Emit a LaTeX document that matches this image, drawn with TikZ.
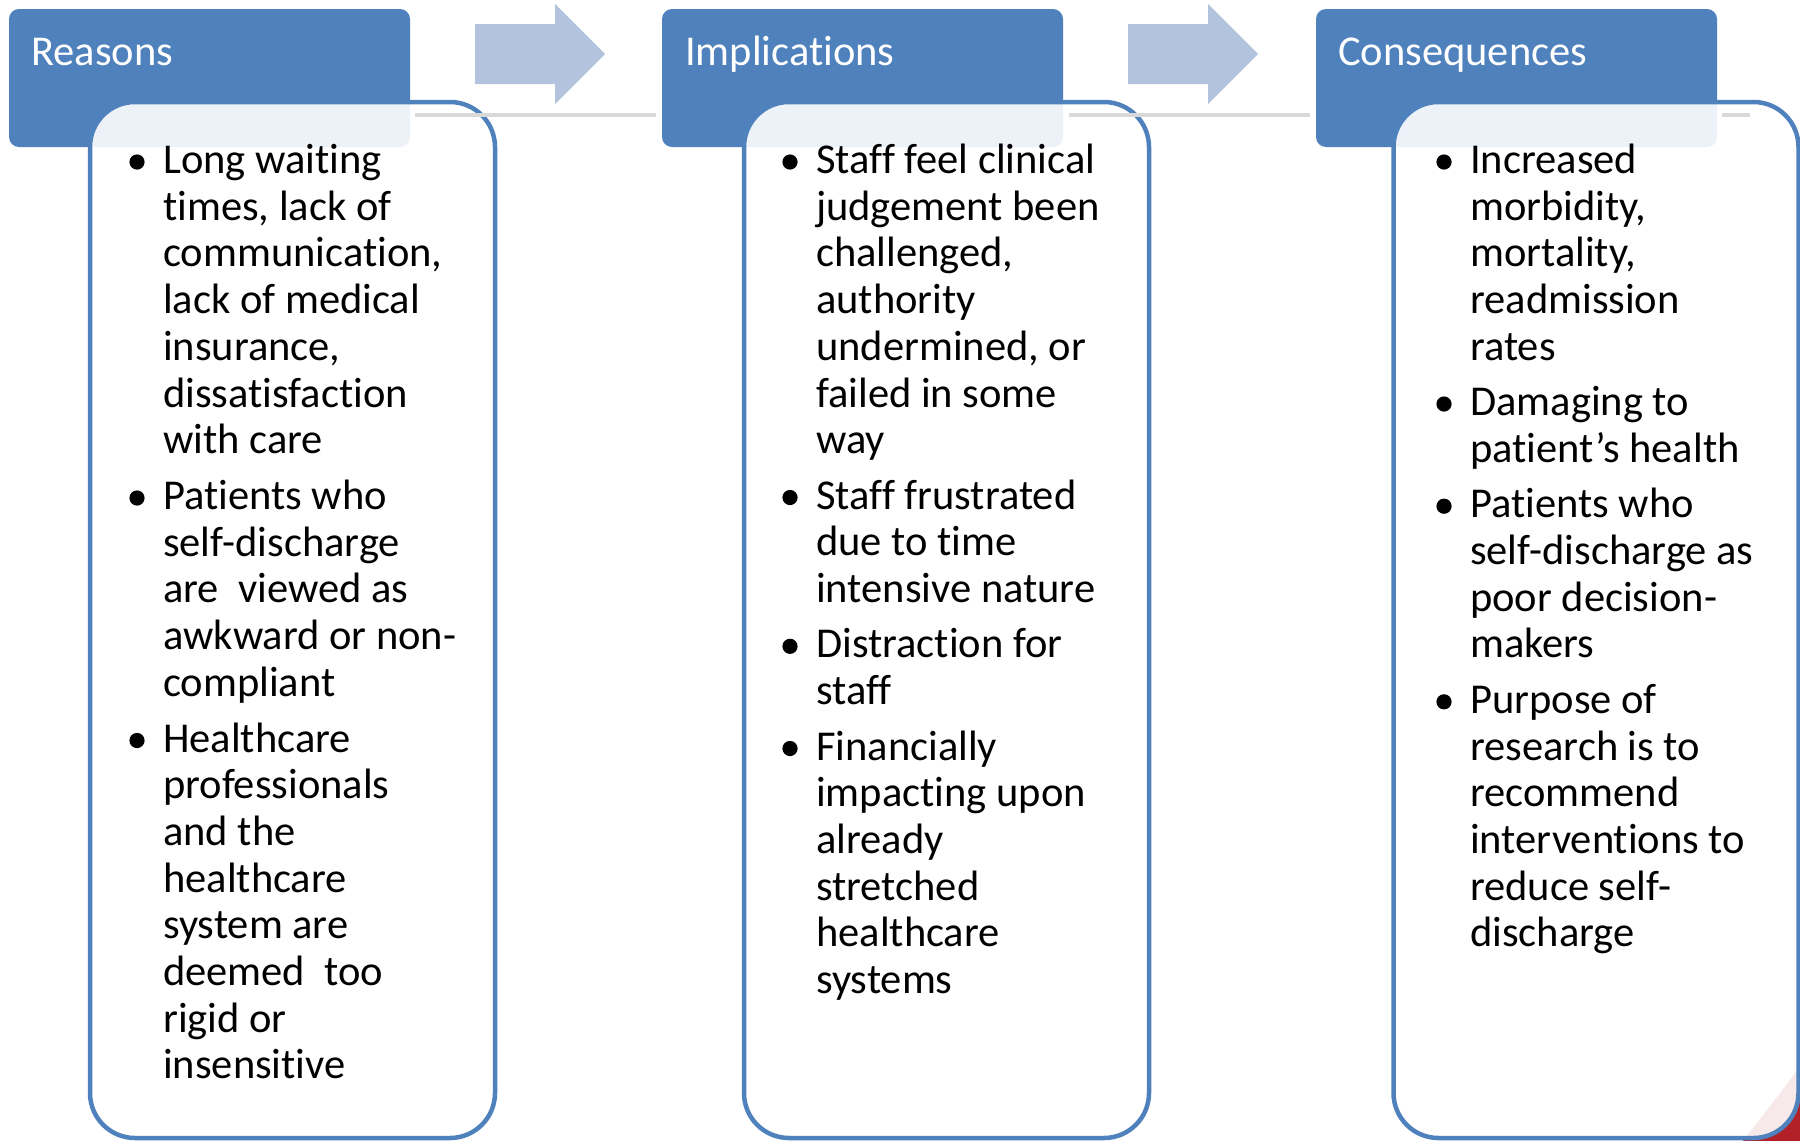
\documentclass[tikz,border=0pt]{standalone}
\usepackage{fontspec}
\setmainfont{Carlito}[Ligatures=NoCommon]
\definecolor{hblue}{RGB}{79,129,189}
\definecolor{arrowblue}{RGB}{179,195,222}
\definecolor{lgray}{RGB}{217,217,217}
\definecolor{deco}{RGB}{178,32,40}
\newcommand{\bfnt}{\fontsize{42.5}{46.7}\selectfont}
\newcommand{\lns}[1]{\begin{tabular}[t]{@{}l@{}}#1\end{tabular}}
% item: name, x, y (baseline of first line), lines
\newcommand{\itemat}[4]{%
  \node[itm] (#1) at (#2,#3) {\lns{#4}};
  \fill ([shift={(-26pt,11.5pt)}]#1.base west) circle (7.6pt);
}
\begin{document}
\begin{tikzpicture}[x=1pt,y=-1pt,
  hdr/.style={fill=hblue, rounded corners=10pt, minimum width=401pt, minimum height=138pt, inner sep=0pt},
  htxt/.style={text=white, font=\bfnt, anchor=base west, inner sep=0pt},
  box/.style={draw=hblue, line width=4.5pt, fill=white, fill opacity=0.9, rounded corners=45pt, minimum width=405pt, minimum height=1036pt, inner sep=0pt},
  itm/.style={font=\bfnt, anchor=base west, inner sep=0pt},
  arr/.style={fill=arrowblue},
  gline/.style={draw=lgray, line width=3.5pt}]
\useasboundingbox (0,0) rectangle (1800,1141);

% decoration at bottom right
\fill[deco] (1743,1141) .. controls (1765,1112) and (1785,1088) .. (1800,1066) -- (1800,1141) -- cycle;

% headers
\node[hdr] (h1) at (209.5,78) {};
\node[hdr] (h2) at (862.5,78) {};
\node[hdr] (h3) at (1516.5,78) {};
\node[htxt] (h1t) at (31,65) {Reasons};
\node[htxt] (h2t) at (685,65) {Implications};
\node[htxt] (h3t) at (1338,65) {Consequences};

% arrows
\fill[arr] (475,24) -- (555,24) -- (555,4) -- (605,54) -- (555,104) -- (555,84) -- (475,84) -- cycle;
\fill[arr] (1128,24) -- (1208,24) -- (1208,4) -- (1258,54) -- (1208,104) -- (1208,84) -- (1128,84) -- cycle;

% boxes
\node[box] (b1) at (292.5,620) {};
\node[box] (b2) at (946.5,620) {};
\node[box] (b3) at (1596,620) {};

% gray connecting lines
\coordinate (g1a) at (415,115);
\coordinate (g1b) at (656,115);
\coordinate (g2a) at (1069,115);
\coordinate (g2b) at (1310,115);
\coordinate (g3a) at (1722,115);
\coordinate (g3b) at (1750,115);
\draw[gline] (g1a) -- (g1b);
\draw[gline] (g2a) -- (g2b);
\draw[gline] (g3a) -- (g3b);

% Reasons
\itemat{r1}{163}{173.5}{Long waiting\\times, lack of\\communication,\\lack of medical\\insurance,\\dissatisfaction\\with care}
\itemat{r2}{163}{509.5}{Patients who\\self-discharge\\are\ \ viewed as\\awkward or non-\\compliant}
\itemat{r3}{163}{752}{Healthcare\\professionals\\and the\\healthcare\\system are\\deemed\ \ too\\rigid or\\insensitive}

% Implications
\itemat{i1}{816}{173.5}{Staff feel clinical\\judgement been\\challenged,\\authority\\undermined, or\\failed in some\\way}
\itemat{i2}{816}{509}{Staff frustrated\\due to time\\intensive nature}
\itemat{i3}{816}{657.8}{Distraction for\\staff}
\itemat{i4}{816}{760}{Financially\\impacting upon\\already\\stretched\\healthcare\\systems}

% Consequences
\itemat{c1}{1470}{173.5}{Increased\\morbidity,\\mortality,\\readmission\\rates}
\itemat{c2}{1470}{415.5}{Damaging to\\patient’s health}
\itemat{c3}{1470}{517.7}{Patients who\\self-discharge as\\poor decision-\\makers}
\itemat{c4}{1470}{713.3}{Purpose of\\research is to\\recommend\\interventions to\\reduce self-\\discharge}
\end{tikzpicture}
\end{document}
